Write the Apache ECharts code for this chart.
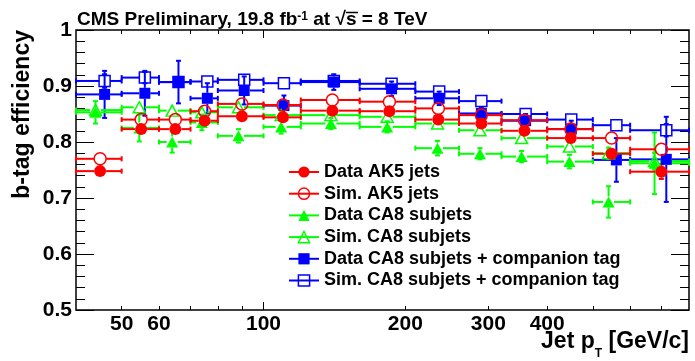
<!DOCTYPE html>
<html lang="en">
<head>
<meta charset="UTF-8">
<title>b-tag efficiency vs jet pT</title>
<style>
  html, body { margin: 0; padding: 0; background: #fff; }
  #chart { width: 695px; height: 361px; }
</style>
</head>
<body>
<div id="chart"></div>
<script src="https://cdn.jsdelivr.net/npm/echarts@6/dist/echarts.min.js"></script>
<script>
// jet pT bins [GeV/c]
const binLow  = [40, 50, 60, 70, 80, 100, 120, 160, 210, 260, 320, 400, 500, 600];
const binHigh = [50, 60, 70, 80, 100, 120, 160, 210, 260, 320, 400, 500, 600, 800];
// marker position inside each bin, per jet type
const ak5X = [45, 55, 65, 75, 90, 110, 140, 185, 235, 290, 358, 449, 548, 699];
const ca8X = [44, 54.5, 64, 74, 88.5, 109, 139, 183, 234, 288, 353, 446, 540, 676];
const tagX = [46, 56, 66, 76, 91, 110.5, 141, 187, 236, 290, 360, 450, 561, 716];

// efficiencies and their errors
const dataAK5    = [0.748, 0.823, 0.823, 0.838, 0.846, 0.844, 0.856, 0.855, 0.840, 0.833, 0.820, 0.807, 0.779, 0.747];
const dataAK5Err = [0.008, 0.007, 0.007, 0.006, 0.005, 0.005, 0.004, 0.004, 0.005, 0.006, 0.007, 0.008, 0.010, 0.013];
const simAK5     = [0.770, 0.840, 0.840, 0.855, 0.868, 0.866, 0.875, 0.872, 0.860, 0.848, 0.839, 0.823, 0.807, 0.787];
const simAK5Err  = [0.006, 0.005, 0.004, 0.003, 0.003, 0.002, 0.002, 0.002, 0.002, 0.003, 0.003, 0.004, 0.006, 0.008];
const dataCA8    = [0.853, 0.825, 0.800, 0.835, 0.811, 0.827, 0.833, 0.827, 0.789, 0.779, 0.774, 0.765, 0.693, 0.762];
const dataCA8Err = [0.020, 0.024, 0.019, 0.014, 0.012, 0.012, 0.010, 0.010, 0.013, 0.010, 0.010, 0.012, 0.028, 0.055];
const simCA8     = [0.857, 0.862, 0.856, 0.853, 0.862, 0.848, 0.848, 0.845, 0.833, 0.821, 0.807, 0.792, 0.780, 0.766];
const simCA8Err  = [0.008, 0.007, 0.006, 0.005, 0.004, 0.004, 0.003, 0.003, 0.004, 0.005, 0.006, 0.007, 0.010, 0.015];
const dataTag    = [0.885, 0.887, 0.907, 0.878, 0.892, 0.865, 0.907, 0.895, 0.878, 0.851, 0.838, 0.823, 0.768, 0.769];
const dataTagErr = [0.042, 0.040, 0.038, 0.027, 0.025, 0.018, 0.014, 0.013, 0.012, 0.011, 0.012, 0.015, 0.039, 0.076];
const simTag     = [0.909, 0.915, 0.907, 0.908, 0.911, 0.905, 0.909, 0.904, 0.890, 0.873, 0.850, 0.840, 0.830, 0.821];
const simTagErr  = [0.012, 0.010, 0.009, 0.008, 0.007, 0.006, 0.005, 0.005, 0.005, 0.005, 0.006, 0.007, 0.009, 0.011];

// axis
const xMin = 40, xMax = 800;
const xTicks = [50, 60, 70, 80, 90, 100, 200, 300, 400, 500, 600, 700];
const xMajor = [100];
const xLabels = [50, 60, 100, 200, 300, 400];

const RED = '#ff0000', GREEN = '#00ff00', BLUE = '#0000ff';
const FONT = 'Liberation Sans';
const lg = v => Math.log10(v);

// horizontal bar = bin, vertical bar = error, gap around the marker like ROOT
function errorBars(name, xs, ys, errs, color, gap) {
  const cap = 2.5;
  return {
    type: 'custom', name: name + ' (err)', silent: true, animation: false,
    data: xs.map((x, i) => [lg(x), ys[i], lg(binLow[i]), lg(binHigh[i]), errs[i]]),
    encode: { x: 0, y: 1 },
    renderItem(params, api) {
      const x = api.value(0), y = api.value(1), e = api.value(4);
      const c = api.coord([x, y]);
      const lo = api.coord([api.value(2), y])[0];
      const hi = api.coord([api.value(3), y])[0];
      const top = api.coord([x, y + e])[1];
      const bot = api.coord([x, y - e])[1];
      const segs = [];
      if (c[0] - gap > lo) segs.push([lo, c[1], c[0] - gap, c[1]]);
      if (hi > c[0] + gap) segs.push([c[0] + gap, c[1], hi, c[1]]);
      segs.push([lo, c[1] - cap, lo, c[1] + cap], [hi, c[1] - cap, hi, c[1] + cap]);
      if (c[1] - gap > top) {
        segs.push([c[0], top, c[0], c[1] - gap], [c[0], c[1] + gap, c[0], bot]);
        segs.push([c[0] - cap, top, c[0] + cap, top], [c[0] - cap, bot, c[0] + cap, bot]);
      }
      return {
        type: 'group',
        children: segs.map(s => ({
          type: 'line',
          shape: { x1: s[0], y1: s[1], x2: s[2], y2: s[3] },
          style: { stroke: color, lineWidth: 2 }
        }))
      };
    }
  };
}

function markers(name, xs, ys, color, symbol, size, open) {
  return {
    type: 'line', name: name, silent: true, animation: false,
    data: xs.map((x, i) => [lg(x), ys[i]]),
    symbol: symbol, symbolSize: size, showSymbol: true, showAllSymbol: true,
    lineStyle: { color: color, width: 2, opacity: 0 },
    itemStyle: open
      ? { color: 'rgba(255,255,255,0)', borderColor: color, borderWidth: 1.5 }
      : { color: color, borderWidth: 0 },
    emphasis: { disabled: true }
  };
}

const groups = [
  ['Data CA8 subjets + companion tag', tagX, dataTag, dataTagErr, BLUE, 'rect', 11, false],
  ['Sim. CA8 subjets + companion tag', tagX, simTag, simTagErr, BLUE, 'rect', 11, true],
  ['Data CA8 subjets', ca8X, dataCA8, dataCA8Err, GREEN, 'triangle', [12, 11], false],
  ['Sim. CA8 subjets', ca8X, simCA8, simCA8Err, GREEN, 'triangle', [12, 11], true],
  ['Data AK5 jets', ak5X, dataAK5, dataAK5Err, RED, 'circle', 12, false],
  ['Sim. AK5 jets', ak5X, simAK5, simAK5Err, RED, 'circle', 12, true]
];

const series = [];
groups.forEach(g => {
  const gap = g[5] === 'circle' ? 6 : 5.5;
  series.push(errorBars(g[0], g[1], g[2], g[3], g[4], gap));
  series.push(markers(g[0], g[1], g[2], g[4], g[5], g[6], g[7]));
});

const legendOrder = [4, 5, 2, 3, 0, 1].map(i => {
  const g = groups[i];
  return {
    name: g[0],
    itemStyle: g[7]
      ? { color: 'rgba(255,255,255,0)', borderColor: g[4], borderWidth: 1.5, opacity: 1 }
      : { color: g[4], borderWidth: 0, opacity: 1 },
    lineStyle: { color: g[4], width: 2, opacity: 1 }
  };
});

function xAxisDef(position, ticks, len, labels) {
  return {
    type: 'value', position: position, min: lg(xMin), max: lg(xMax),
    axisLine: { show: false, onZero: false },
    splitLine: { show: false },
    axisTick: { show: true, inside: true, length: len, customValues: ticks.map(lg),
                lineStyle: { color: '#000', width: 1 } },
    axisLabel: labels
      ? { show: true, customValues: labels.map(lg), margin: 4,
          formatter: v => String(Math.round(Math.pow(10, v))),
          color: '#000', fontFamily: FONT, fontWeight: 'bold', fontSize: 21 }
      : { show: false }
  };
}

function yAxisDef(position, labels) {
  return {
    type: 'value', position: position, min: 0.5, max: 1, interval: 0.1,
    axisLine: { show: false, onZero: false },
    splitLine: { show: false },
    axisTick: { show: true, inside: true, length: 18, lineStyle: { color: '#000', width: 1 } },
    minorTick: { show: true, splitNumber: 5, length: 9, lineStyle: { color: '#000', width: 1 } },
    axisLabel: labels
      ? { show: true, margin: 4, color: '#000', fontFamily: FONT, fontWeight: 'bold', fontSize: 21 }
      : { show: false }
  };
}

const chart = echarts.init(document.getElementById('chart'), null, { renderer: 'canvas' });
chart.setOption({
  backgroundColor: '#fff',
  animation: false,
  grid: {
    left: 76, right: 6, top: 30, bottom: 51,
    show: true, borderColor: '#000', borderWidth: 1.5,
    outerBoundsMode: 'none'
  },
  xAxis: [
    xAxisDef('bottom', xTicks, 4, xLabels),
    xAxisDef('bottom', xMajor, 8, null),
    xAxisDef('top', xTicks, 4, null),
    xAxisDef('top', xMajor, 8, null)
  ],
  yAxis: [yAxisDef('left', true), yAxisDef('right', false)],
  legend: {
    orient: 'vertical', left: 288, top: 163, padding: 0,
    itemWidth: 30, itemHeight: 14, itemGap: 3.7,
    selectedMode: false,
    textStyle: { color: '#000', fontFamily: FONT, fontWeight: 'bold', fontSize: 18 },
    data: legendOrder
  },
  graphic: [
    {
      type: 'text', x: 77, y: 20, silent: true,
      style: {
        text: 'CMS Preliminary, 19.8 fb{sup|-1} at √s = 8 TeV',
        fill: '#000', fontFamily: FONT, fontWeight: 'bold', fontSize: 19, lineHeight: 19,
        align: 'left', verticalAlign: 'middle',
        rich: { sup: { fill: '#000', fontFamily: FONT, fontWeight: 'bold', fontSize: 12, lineHeight: 12, verticalAlign: 'top' } }
      }
    },
    {
      // overline of the square root
      type: 'line', silent: true,
      shape: { x1: 346, y1: 12.5, x2: 358, y2: 12.5 },
      style: { stroke: '#000', lineWidth: 1.5 }
    },
    {
      type: 'text', x: 23, y: 30, rotation: Math.PI / 2, silent: true,
      style: {
        text: 'b-tag efficiency', fill: '#000',
        fontFamily: FONT, fontWeight: 'bold', fontSize: 23,
        align: 'right', verticalAlign: 'middle'
      }
    },
    {
      type: 'text', x: 689, y: 342, silent: true,
      style: {
        text: 'Jet p{sub|T} [GeV/c]', fill: '#000',
        fontFamily: FONT, fontWeight: 'bold', fontSize: 23, lineHeight: 36,
        align: 'right', verticalAlign: 'middle',
        rich: { sub: { fill: '#000', fontFamily: FONT, fontWeight: 'bold', fontSize: 12, lineHeight: 12, verticalAlign: 'bottom' } }
      }
    }
  ],
  series: series
});
</script>
</body>
</html>
